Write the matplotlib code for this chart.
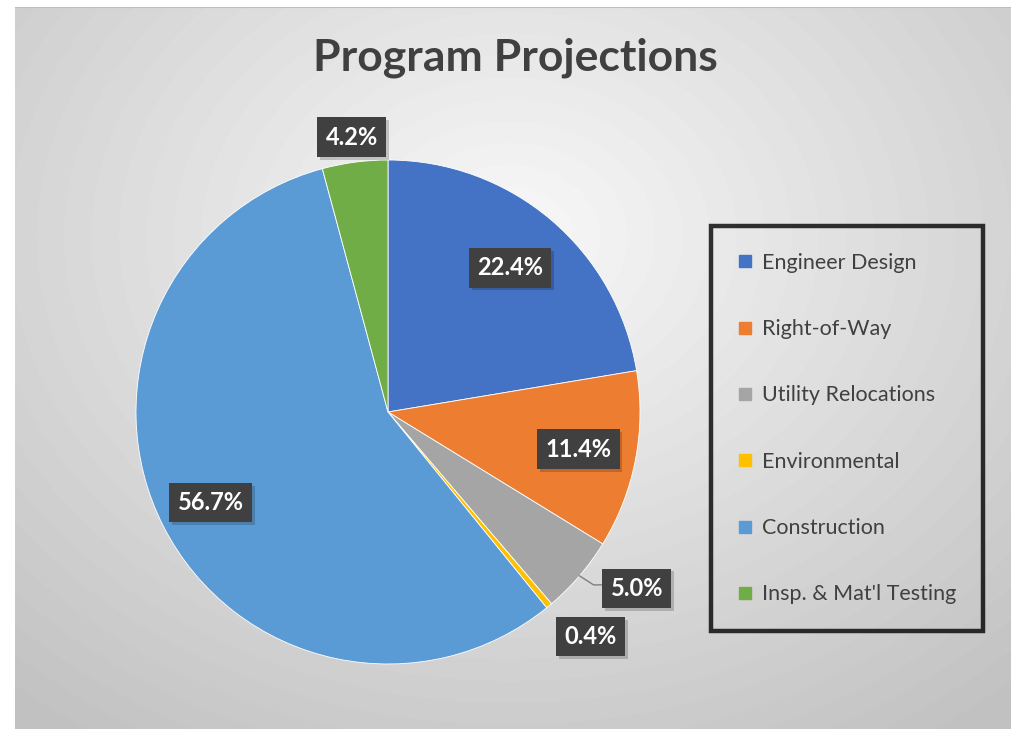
import numpy as np
import matplotlib.pyplot as plt
from matplotlib.lines import Line2D
import matplotlib.patheffects as pe

plt.rcParams['font.family'] = ['Lato', 'DejaVu Sans']

categories = ['Engineer Design', 'Right-of-Way', 'Utility Relocations',
              'Environmental', 'Construction', "Insp. & Mat'l Testing"]
shares = [22.4, 11.4, 5.0, 0.4, 56.7, 4.2]
colors = ['#4472C4', '#ED7D31', '#A5A5A5', '#FFC000', '#5B9BD5', '#70AD47']
# where each data label sits: fraction of radius, and angle nudge in degrees
label_r = [0.75, 0.77, 1.21, 1.20, 0.79, 1.10]
label_dang = [0, 0, 5.2, 2.3, 0, 0]

W, H = 1011, 729
fig = plt.figure(figsize=(W / 100, H / 100), dpi=100)
fig.patch.set_facecolor('white')

# gradient chart area
bg = fig.add_axes([15 / W, 0, 1 - 15 / W, 1 - 7 / H])
yy, xx = np.mgrid[0:722, 0:996]
d = np.hypot((xx - 495) / 700.0, (yy - 230) / 560.0)
g = np.clip(0.975 - 0.2 * d, 0.76, 1.0)
bg.imshow(g, cmap='gray', vmin=0, vmax=1, aspect='auto', extent=[0, 1, 0, 1])
bg.axhline(1, color='#bdbdbd', lw=1.5)
bg.set_axis_off()

# pie
R = 252
cx, cy = 388, 412
half = 262
ax = fig.add_axes([(cx - half) / W, (H - cy - half) / H, 2 * half / W, 2 * half / H])
wedges, _ = ax.pie(shares, colors=colors, startangle=90, counterclock=False,
                   radius=1.0, wedgeprops=dict(edgecolor='white', linewidth=0.6))
ax.set_xlim(-half / R, half / R)
ax.set_ylim(-half / R, half / R)
ax.set_aspect('equal')
ax.set_axis_off()

for i, w in enumerate(wedges):
    mid = np.deg2rad((w.theta1 + w.theta2) / 2)
    lab = mid + np.deg2rad(label_dang[i])
    x, y = label_r[i] * np.cos(lab), label_r[i] * np.sin(lab)
    if i == 2:
        ex, ey = 1.0 * np.cos(mid), 1.0 * np.sin(mid)
        ax.plot([ex, ex + 0.056, x - 0.14], [ey, ey - 0.036, ey - 0.036],
                color='#7f7f7f', lw=1, zorder=3)
    t = ax.text(x, y, f'{shares[i]:.1f}%', ha='center', va='center',
                fontsize=17, fontweight='bold', color='white', zorder=5,
                bbox=dict(boxstyle='square,pad=0.35', facecolor='#404040',
                          edgecolor='none'))
    t.get_bbox_patch().set_path_effects([
        pe.SimplePatchShadow(offset=(2, -2), shadow_rgbFace='#000000', alpha=0.18),
        pe.Normal()])

fig.text(515 / W, 1 - 58 / H, 'Program Projections', ha='center', va='center',
         fontsize=32, fontweight='bold', color='#404040')

handles = [Line2D([], [], marker='s', linestyle='none', markersize=9,
                  markerfacecolor=c, markeredgecolor=c) for c in colors]
leg = fig.legend(handles, categories, loc='upper left',
                 bbox_to_anchor=(711 / W, 1 - 226 / H), fontsize=15.5,
                 labelspacing=2.15, borderpad=1.25, handlelength=0.7,
                 handletextpad=0.4, borderaxespad=0, fancybox=False,
                 frameon=True, labelcolor='#404040')
leg.get_frame().set_edgecolor('black')
leg.get_frame().set_linewidth(3.2)
leg.get_frame().set_facecolor('none')

fig.savefig('out.png', dpi=100)
